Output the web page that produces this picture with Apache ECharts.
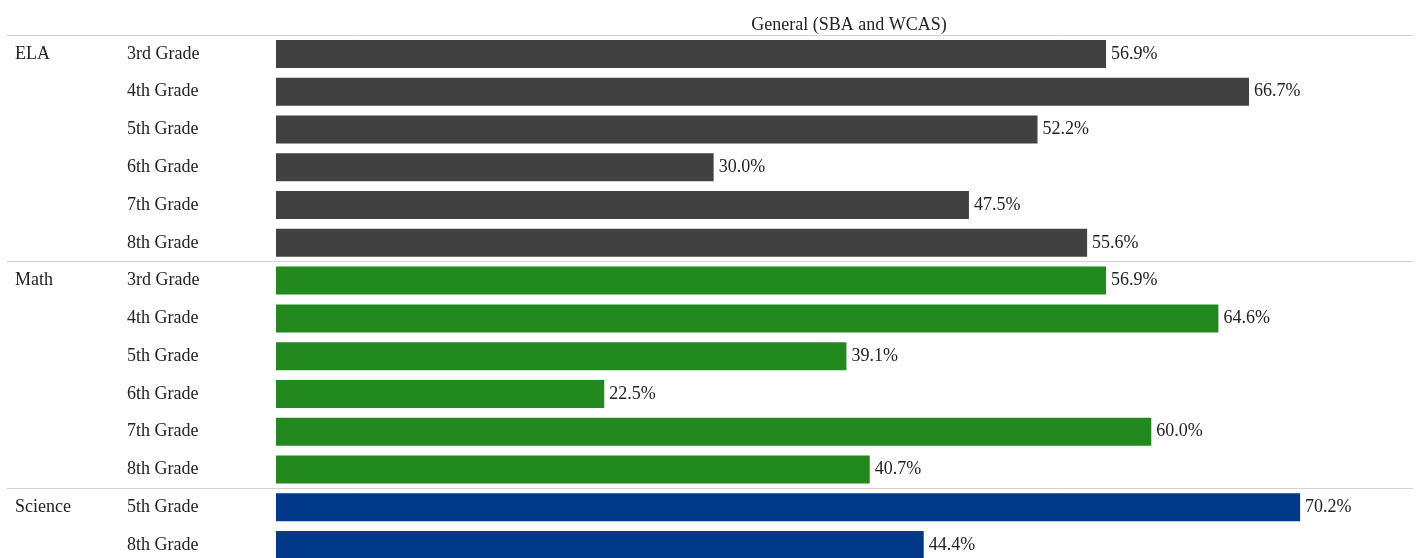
<!DOCTYPE html>
<html>
<head>
<meta charset="utf-8">
<script src="https://cdn.jsdelivr.net/npm/echarts@6/dist/echarts.min.js"></script>
<style>html,body{margin:0;padding:0;background:#fff;overflow:hidden;height:558px;}#c{width:1417px;height:566px;}</style>
</head>
<body>
<div id="c"></div>
<script>
var subjects = ['ELA','ELA','ELA','ELA','ELA','ELA','Math','Math','Math','Math','Math','Math','Science','Science'];
var grades = ['3rd Grade','4th Grade','5th Grade','6th Grade','7th Grade','8th Grade','3rd Grade','4th Grade','5th Grade','6th Grade','7th Grade','8th Grade','5th Grade','8th Grade'];
var values = [56.9, 66.7, 52.2, 30.0, 47.5, 55.6, 56.9, 64.6, 39.1, 22.5, 60.0, 40.7, 70.2, 44.4];
var title = 'General (SBA and WCAS)';

var colors = {ELA:'#414141', Math:'#21891e', Science:'#00398a'};
var keys = subjects.map(function(s,i){ return s + '|' + grades[i]; });
var font = "'Liberation Serif','Times New Roman',serif";

var chart = echarts.init(document.getElementById('c'));
chart.setOption({
  animation: false,
  title: {text: title, left: 844, textAlign: 'center', top: 11,
    textStyle: {fontFamily: font, fontSize: 18, fontWeight: 'normal', color: '#222'}},
  grid: {left: 7, right: 4, top: 35, height: 529},
  xAxis: {type: 'value', min: -18.44, max: 77.94, show: false},
  yAxis: [{
    type: 'category', data: keys, inverse: true,
    axisLine: {show: false}, axisTick: {show: false},
    axisLabel: {inside: true, margin: 120, align: 'left', fontFamily: font, fontSize: 18, color: '#222',
      formatter: function(v){ return v.split('|')[1]; }},
    splitLine: {show: true, lineStyle: {color: '#d3d3d3', width: 1},
      interval: function(idx){ return idx === 0 || subjects[idx] !== subjects[idx-1]; }}
  },{
    type: 'category', data: keys, inverse: true, position: 'left',
    axisLine: {show: false}, axisTick: {show: false}, splitLine: {show: false},
    axisLabel: {inside: true, margin: 8, align: 'left', fontFamily: font, fontSize: 18, color: '#222',
      formatter: function(v, idx){ return (idx === 0 || subjects[idx] !== subjects[idx-1]) ? subjects[idx] : ''; }}
  }],
  series: [{
    type: 'bar', yAxisIndex: 0, barWidth: 28,
    data: values.map(function(v,i){ return {value: v, itemStyle: {color: colors[subjects[i]]}}; }),
    label: {show: true, position: 'right', distance: 5, fontFamily: font, fontSize: 18, color: '#222',
      formatter: function(p){ return p.value.toFixed(1) + '%'; }}
  }]
});
</script>
</body>
</html>
